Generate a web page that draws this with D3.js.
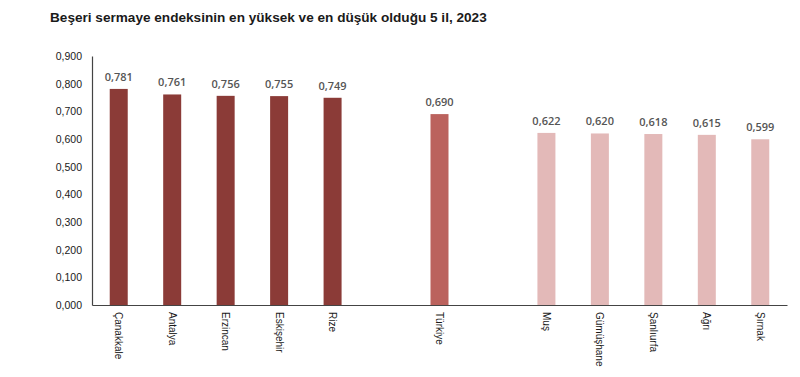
<!DOCTYPE html>
<html>
<head>
<meta charset="utf-8">
<script src="https://cdn.jsdelivr.net/npm/d3@7"></script>
<style>
  body { margin: 0; background: #fff; }
  svg { font-family: "Open Sans", "DejaVu Sans", sans-serif; }
</style>
</head>
<body>
<svg id="chart"></svg>
<script>
// categories in display order, '' marks an empty gap slot
const provinces = ['Çanakkale', 'Antalya', 'Erzincan', 'Eskişehir', 'Rize', '', 'Türkiye', '', 'Muş', 'Gümüşhane', 'Şanlıurfa', 'Ağrı', 'Şırnak']
const values = [0.781, 0.761, 0.756, 0.755, 0.749, null, 0.690, null, 0.622, 0.620, 0.618, 0.615, 0.599]
const groups = ['high', 'high', 'high', 'high', 'high', null, 'avg', null, 'low', 'low', 'low', 'low', 'low']
const yTicks = [0, 0.1, 0.2, 0.3, 0.4, 0.5, 0.6, 0.7, 0.8, 0.9]
const title = 'Beşeri sermaye endeksinin en yüksek ve en düşük olduğu 5 il, 2023'

const width = 800, height = 377
const margin = {top: 56, right: 13, bottom: 72, left: 92}

const svg = d3.select('#chart').attr('width', width).attr('height', height)

const tr = d3.formatLocale({decimal: ',', thousands: '.', grouping: [3], currency: ['', '']})
const fmt = tr.format('.3f')

const keys = provinces.map((p, i) => p === '' ? '_gap' + i : p)
const data = keys.map((k, i) => ({key: k, name: provinces[i], value: values[i], group: groups[i]}))

const x = d3.scaleBand()
  .domain(keys)
  .range([margin.left, width - margin.right])
  .paddingInner(0)
  .paddingOuter(0)

const y = d3.scaleLinear()
  .domain([0, 0.9])
  .range([height - margin.bottom, margin.top])

const color = d3.scaleOrdinal()
  .domain(['high', 'avg', 'low'])
  .range(['#8b3b37', '#bb625d', '#e3b9b8'])

svg.append('text')
  .attr('x', 50)
  .attr('y', 22)
  .attr('font-family', 'Liberation Sans, Arial, sans-serif')
  .attr('font-size', '13.6px')
  .attr('font-weight', 'bold')
  .attr('fill', '#1a1a1a')
  .text(title)

// y axis
const yAxis = svg.append('g')
  .attr('transform', `translate(${margin.left},0)`)
  .call(d3.axisLeft(y).tickValues(yTicks).tickFormat(fmt).tickSize(0).tickPadding(10))
yAxis.select('.domain').attr('stroke', '#444').attr('stroke-width', 1.2)
yAxis.selectAll('text').attr('font-size', '10.5px').attr('fill', '#1a1a1a')

// x axis
const xAxis = svg.append('g')
  .attr('transform', `translate(0,${y(0)})`)
  .call(d3.axisBottom(x).tickSize(0).tickFormat(k => k.startsWith('_gap') ? '' : k))
xAxis.select('.domain').attr('stroke', '#444').attr('stroke-width', 1.2)
xAxis.selectAll('text')
  .attr('font-size', '10px')
  .attr('fill', '#1a1a1a')
  .attr('text-anchor', 'start')
  .attr('dy', '0.35em')
  .attr('transform', 'translate(0,7) rotate(90)')
  .attr('y', 0)
  .attr('x', 0)

const bw = 18
const bars = data.filter(d => d.value !== null)

svg.selectAll('.bar').data(bars).enter()
  .append('rect')
  .attr('class', 'bar')
  .attr('x', d => x(d.key) + x.bandwidth() / 2 - bw / 2)
  .attr('y', d => y(d.value))
  .attr('width', bw)
  .attr('height', d => y(0) - y(d.value))
  .attr('fill', d => color(d.group))

svg.selectAll('.val').data(bars).enter()
  .append('text')
  .attr('class', 'val')
  .attr('x', d => x(d.key) + x.bandwidth() / 2)
  .attr('y', d => y(d.value) - 8)
  .attr('text-anchor', 'middle')
  .attr('font-size', '11px')
  .attr('font-weight', 600)
  .attr('fill', '#555')
  .text(d => fmt(d.value))
</script>
</body>
</html>
